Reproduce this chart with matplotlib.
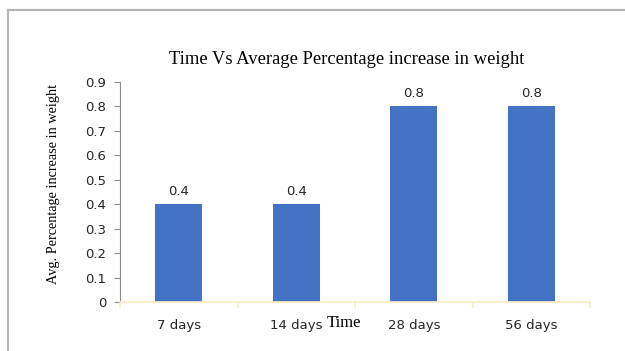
import numpy as np
import matplotlib
matplotlib.use("Agg")
from matplotlib import pyplot as plt
from matplotlib.lines import Line2D

# average percentage weight gain per time period
periods = ["7 days", "14 days", "28 days", "56 days"]
gain = [0.4, 0.4, 0.8, 0.8]
yticks = [0, 0.1, 0.2, 0.3, 0.4, 0.5, 0.6, 0.7, 0.8, 0.9]

bar_color = "#4472c4"
text_color = "#262626"

fig = plt.figure(figsize=(6.25, 3.51), dpi=100)
ax = fig.add_axes([0.192, 0.1396, 0.752, 0.6268])

x = np.arange(len(periods))
ax.bar(x, gain, width=0.4, color=bar_color, zorder=2)
for xi, v in zip(x, gain):
    ax.text(xi, v + 0.025, "%.1f" % v, ha="center", va="bottom",
            fontsize=9.5, color=text_color, family="DejaVu Sans")

ax.set_xlim(-0.5, len(periods) - 0.5)
ax.set_ylim(0, 0.9)
ax.set_yticks(yticks)
ax.set_yticklabels(["0" if t == 0 else "%.1f" % t for t in yticks])
ax.set_xticks(x)
ax.set_xticklabels(periods)
ax.set_xticks(np.arange(-0.5, len(periods), 1.0), minor=True)

for s in ["top", "right"]:
    ax.spines[s].set_visible(False)
ax.spines["left"].set_color("#8c8c8c")
ax.spines["left"].set_linewidth(0.8)
ax.spines["bottom"].set_color("#fbeec4")
ax.spines["bottom"].set_linewidth(1.2)

ax.tick_params(axis="y", length=4, width=0.8, color="#8c8c8c",
               labelsize=9.5, labelcolor=text_color, pad=6)
ax.tick_params(axis="x", which="major", length=0, labelsize=9.5,
               labelcolor=text_color, pad=12)
ax.tick_params(axis="x", which="minor", length=4, width=1.2, color="#fbeec4")

# axis titles and heading
ax.text(1.26, -0.085, "Time", transform=ax.transData, fontsize=12,
        family="Liberation Serif", color="black", ha="left", va="center")
fig.text(54 / 625, 1 - 184 / 351, "Avg. Percentage increase in weight",
         rotation=90, ha="center", va="center", family="Liberation Serif",
         fontsize=10.3, color="black")
fig.text(0.554, 0.83, "Time Vs Average Percentage increase in weight",
         ha="center", va="center", family="Liberation Serif", fontsize=13.4,
         color="black")

# frame lines along the top and left edge
fig.add_artist(Line2D([8 / 625, 8 / 625], [0, 1 - 10 / 351], transform=fig.transFigure,
                      color="#b4b4b4", linewidth=1.5))
fig.add_artist(Line2D([8 / 625, 1], [1 - 10 / 351, 1 - 10 / 351], transform=fig.transFigure,
                      color="#b4b4b4", linewidth=1.5))

fig.savefig("out.png", dpi=100)
